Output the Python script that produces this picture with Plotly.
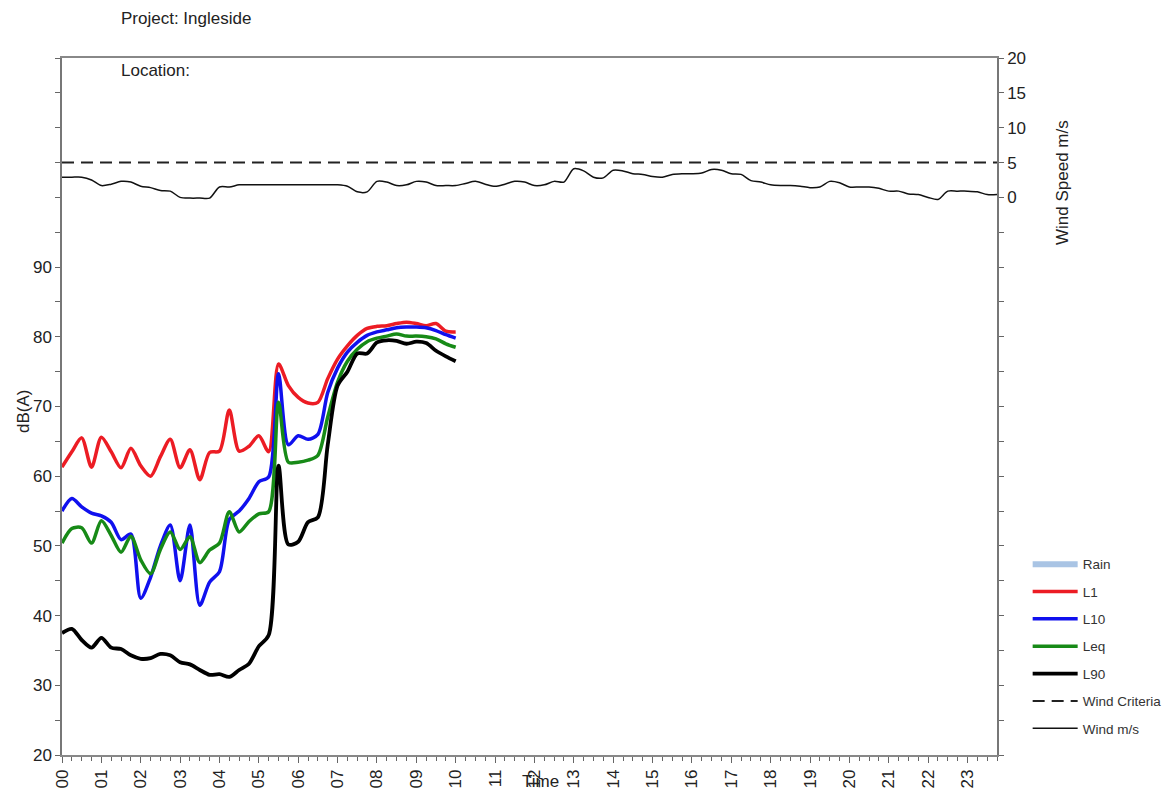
import plotly.graph_objects as go

# ---------------- data ----------------
hour_labels = [f"{h:02d}" for h in range(24)]
noise_hours = [i / 4 for i in range(41)]          # 00:00 .. 10:00, 15-min steps
wind_hours = [i / 4 for i in range(96)]           # 00:00 .. 23:45, 15-min steps

L1 = [61.3, 63.5, 65.5, 61.3, 65.6, 63.5, 61.2, 64.0, 61.5, 60.0,
      62.8, 65.3, 61.2, 63.8, 59.5, 63.4, 63.6, 69.5, 63.6, 64.3,
      65.8, 63.5, 76.1, 73.0, 71.3, 70.5, 70.6, 74.0, 76.8, 78.7,
      80.2, 81.2, 81.5, 81.6, 81.9, 82.1, 81.9, 81.6, 81.9, 80.8, 80.7]
L10 = [55.0, 56.8, 55.6, 54.7, 54.3, 53.4, 50.9, 51.7, 42.5, 45.5,
       50.0, 53.0, 45.0, 53.0, 41.5, 44.8, 46.3, 53.8, 55.0, 56.8,
       59.2, 59.9, 74.7, 64.5, 65.8, 65.3, 66.0, 72.0, 75.5, 77.8,
       79.2, 80.2, 80.7, 81.0, 81.3, 81.4, 81.4, 81.3, 80.9, 80.3, 79.8]
Leq = [50.4, 52.5, 52.6, 50.4, 53.6, 51.5, 49.1, 51.4, 48.0, 46.0,
       49.5, 52.0, 49.5, 51.3, 47.6, 49.4, 50.4, 54.9, 52.0, 53.5,
       54.6, 54.9, 70.6, 62.0, 62.0, 62.3, 63.0, 68.5, 73.5, 76.5,
       78.2, 79.3, 79.8, 80.1, 80.4, 80.1, 80.1, 80.0, 79.7, 79.0, 78.5]
L90 = [37.5, 38.1, 36.5, 35.4, 36.8, 35.4, 35.2, 34.3, 33.8, 33.9,
       34.5, 34.3, 33.3, 33.0, 32.2, 31.5, 31.6, 31.2, 32.2, 33.1,
       35.6, 37.2, 61.5, 50.2, 50.6, 53.4, 54.1, 64.5, 73.0, 75.0,
       77.6, 77.6, 79.2, 79.5, 79.4, 79.0, 79.3, 79.1, 78.0, 77.2, 76.5]
wind = [2.9, 2.9, 2.9, 2.5,
        1.7, 1.9, 2.3, 2.2,
        1.6, 1.4, 1.0, 0.9,
        0.0, -0.1, -0.1, -0.1,
        1.5, 1.5, 1.8, 1.8,
        1.8, 1.8, 1.8, 1.8,
        1.8, 1.8, 1.8, 1.8,
        1.8, 1.6, 0.8, 0.8,
        2.3, 2.2, 1.7, 1.8,
        2.3, 2.2, 1.7, 1.7,
        1.7, 2.0, 2.3, 1.9,
        1.6, 1.9, 2.3, 2.2,
        1.7, 1.8, 2.3, 2.2,
        4.1, 3.8, 2.9, 2.8,
        3.9, 3.8, 3.4, 3.3,
        3.0, 2.9, 3.3, 3.4,
        3.4, 3.5, 4.0, 3.9,
        3.4, 3.3, 2.4, 2.2,
        1.8, 1.7, 1.7, 1.6,
        1.4, 1.5, 2.3, 2.1,
        1.5, 1.5, 1.5, 1.3,
        0.9, 0.9, 0.5, 0.4,
        0.0, -0.3, 0.9, 0.9,
        0.9, 0.8, 0.4, 0.4]
wind_criteria = [5, 5]
criteria_hours = [0, 23.75]

db_ticks = list(range(20, 125, 5))
db_labels = [str(v) if (v % 10 == 0 and v <= 90) else "" for v in db_ticks]
ws_ticks = list(range(-80, 25, 5))
ws_labels = [str(v) if v >= 0 else "" for v in ws_ticks]

FONT = "Arial, Liberation Sans, sans-serif"
TXT = "#222222"

fig = go.Figure()

# Rain (legend entry only)
fig.add_trace(go.Scatter(x=[None], y=[None], mode="lines", name="Rain",
                         line=dict(color="#a9c4e4", width=6), legendgroup="a"))
for name, vals, col, w, g in [("L1", L1, "#ec1c24", 3.5, "b"),
                              ("L10", L10, "#1010ee", 3.5, "c"),
                              ("Leq", Leq, "#178a17", 3.5, "d"),
                              ("L90", L90, "#000000", 3.8, "e")]:
    fig.add_trace(go.Scatter(x=noise_hours, y=vals, mode="lines", name=name,
                             line=dict(color=col, width=w, shape="spline", smoothing=0.8),
                             legendgroup=g))
fig.add_trace(go.Scatter(x=criteria_hours, y=wind_criteria, mode="lines", name="Wind Criteria",
                         line=dict(color="#222222", width=2, dash="12px,7px"),
                         yaxis="y2", legendgroup="f"))
fig.add_trace(go.Scatter(x=wind_hours, y=wind, mode="lines", name="Wind m/s",
                         line=dict(color="#111111", width=1.5, shape="spline", smoothing=0.8),
                         yaxis="y2", legendgroup="g"))

# page body has an 8px margin, so the figure is sized/placed to compensate
fig.update_layout(
    width=1164, height=785,
    margin=dict(l=54, r=175, t=50, b=38),
    paper_bgcolor="white", plot_bgcolor="white",
    font=dict(family=FONT, color=TXT, size=17),
    showlegend=True,
    legend=dict(xref="container", yref="container", x=0.876, y=0.311,
                xanchor="left", yanchor="top", font=dict(size=13.5, color="#333333"),
                tracegroupgap=6.8, itemwidth=45, bgcolor="rgba(0,0,0,0)"),
    xaxis=dict(range=[0, 23.75], tickvals=list(range(24)), ticktext=hour_labels,
               tickangle=-90, ticks="outside", ticklen=6, tickcolor="#666666",
               showline=True, linecolor="#888888", linewidth=1.5, mirror=True,
               showgrid=False, zeroline=False, automargin=False,
               tickfont=dict(size=17, color=TXT),
               minor=dict(dtick=0.25, tick0=0, ticks="outside", ticklen=4, tickcolor="#666666")),
    yaxis=dict(range=[20, 120], tickvals=db_ticks, ticktext=db_labels,
               ticks="outside", ticklen=5, tickcolor="#666666",
               showline=True, linecolor="#777777", linewidth=1.5,
               showgrid=False, zeroline=False, automargin=False,
               tickfont=dict(size=17, color=TXT)),
    yaxis2=dict(range=[-80, 20], tickvals=ws_ticks, ticktext=ws_labels,
                overlaying="y", side="right",
                ticks="outside", ticklen=5, tickcolor="#666666",
                showline=True, linecolor="#777777", linewidth=1.5,
                showgrid=False, zeroline=False, automargin=False,
                tickfont=dict(size=17, color=TXT)),
)

PW, PH = 935, 697  # plot area size in px; plot area left = 62, bottom = 755 on screen
fig.add_annotation(text="Project: Ingleside", xref="paper", yref="paper",
                   x=(119 - 62) / PW, y=1 + 40 / PH, xanchor="left",
                   yanchor="middle", showarrow=False, font=dict(size=17, color=TXT))
fig.add_annotation(text="Location:", xref="paper", yref="paper",
                   x=(119 - 62) / PW, y=1 - 12 / PH, xanchor="left",
                   yanchor="middle", showarrow=False, font=dict(size=17, color=TXT))
fig.add_annotation(text="dB(A)", xref="paper", yref="paper",
                   x=-38 / PW, y=(755 - 412) / PH, textangle=-90,
                   xanchor="center", yanchor="middle", showarrow=False,
                   font=dict(size=17, color=TXT))
fig.add_annotation(text="Wind Speed m/s", xref="paper", yref="paper",
                   x=(1062 - 62) / PW, y=(755 - 183) / PH, textangle=-90,
                   xanchor="center", yanchor="middle", showarrow=False,
                   font=dict(size=17, color=TXT))
fig.add_annotation(text="Time", xref="paper", yref="paper",
                   x=(540 - 62) / PW, y=-(781 - 755) / PH,
                   xanchor="center", yanchor="middle", showarrow=False,
                   font=dict(size=17, color=TXT))

fig.write_html("out.html")
